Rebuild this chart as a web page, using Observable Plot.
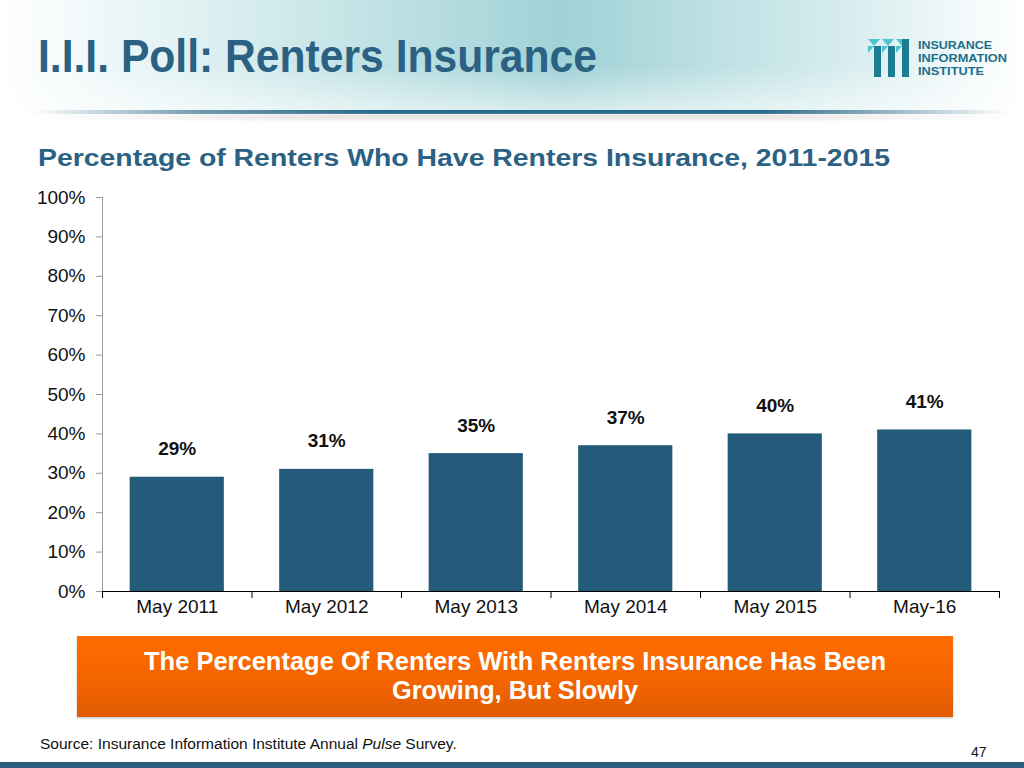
<!DOCTYPE html>
<html>
<head>
<meta charset="utf-8">
<script src="https://cdn.jsdelivr.net/npm/d3@7"></script>
<script src="https://cdn.jsdelivr.net/npm/@observablehq/plot@0.6"></script>
<style>
  html, body { margin: 0; padding: 0; }
  body { width: 1024px; height: 768px; position: relative; overflow: hidden; background: #fff; font-family: "Liberation Sans", Arial, sans-serif; }
  #header { position: absolute; left: 0; top: 0; width: 1024px; height: 110px;
    background: linear-gradient(90deg, rgba(255,255,255,1) 0%, rgba(200,230,232,0.6) 20%, rgba(150,205,210,0.9) 55%, rgba(190,225,228,0.7) 80%, rgba(255,255,255,1) 100%); }
  #headerfade { position: absolute; left: 0; top: 0; width: 1024px; height: 110px;
    background: linear-gradient(180deg, rgba(255,255,255,0) 0%, rgba(255,255,255,0) 60%, rgba(255,255,255,0.55) 100%); }
  #hline { position: absolute; left: 30px; top: 110px; width: 980px; height: 4px;
    background: linear-gradient(90deg, rgba(43,106,138,0) 0%, rgba(43,106,138,0.7) 18%, #276a8c 35%, #276a8c 75%, rgba(43,106,138,0.6) 85%, rgba(43,106,138,0) 100%); }
  #hshadow { position: absolute; left: 30px; top: 114px; width: 980px; height: 6px;
    background: linear-gradient(90deg, rgba(200,200,200,0) 0%, rgba(215,205,205,0.5) 30%, rgba(215,205,205,0.5) 75%, rgba(200,200,200,0) 100%); filter: blur(1px); }
  #title { position: absolute; left: 38px; top: 24px; overflow: visible; }
  #logo { position: absolute; left: 866px; top: 37px; }
  #subtitle { position: absolute; left: 38px; top: 141px; }
  #chart { position: absolute; left: 0; top: 185px; }
  #box { position: absolute; left: 77px; top: 636px; width: 876px; height: 81px;
    background: linear-gradient(180deg, #ff6c00 0%, #f46500 55%, #e05c05 100%);
    box-shadow: 0 1px 2px rgba(0,0,0,0.25); }
  #boxtext { position: absolute; left: 0; top: 0; }
  #source { position: absolute; left: 40px; top: 735px; font-size: 15.5px; color: #111; }
  #page { position: absolute; left: 971px; top: 744px; font-size: 14px; color: #111; }
  #bottombar { position: absolute; left: 0; top: 762px; width: 1024px; height: 6px; background: #2a5f7e; }
</style>
</head>
<body>
<div id="header"></div>
<div id="headerfade"></div>
<div id="hline"></div>
<div id="hshadow"></div>
<svg id="title" width="620" height="66">
  <text x="0" y="48" font-family="'Liberation Sans Narrow','Arial Narrow','Liberation Sans',sans-serif" font-weight="bold" font-size="47" fill="#2b6283" textLength="559" lengthAdjust="spacingAndGlyphs">I.I.I. Poll: Renters Insurance</text>
</svg>
<svg id="logo" width="150" height="44">
  <g>
    <polygon points="2,2 14,2 8,9" fill="#4fc3cf"/>
    <polygon points="2,9 8,9 2,16" fill="#4fc3cf"/>
    <rect x="8" y="9" width="7" height="31" fill="#1a7d92"/>
    <polygon points="16,2 28,2 22,9" fill="#4fc3cf"/>
    <polygon points="16,9 22,9 16,16" fill="#4fc3cf"/>
    <rect x="22" y="9" width="7" height="31" fill="#1a7d92"/>
    <polygon points="30,2 42,2 36,9" fill="#4fc3cf"/>
    <polygon points="30,9 36,9 30,16" fill="#4fc3cf"/>
    <rect x="36" y="2" width="7" height="38" fill="#1a7d92"/>
  </g>
  <g font-family="'Liberation Sans','Arial',sans-serif" font-weight="bold" font-size="11.5" fill="#1a6f8c">
    <text x="52" y="12" textLength="74" lengthAdjust="spacingAndGlyphs">INSURANCE</text>
    <text x="52" y="25" textLength="89" lengthAdjust="spacingAndGlyphs">INFORMATION</text>
    <text x="52" y="38" textLength="66" lengthAdjust="spacingAndGlyphs">INSTITUTE</text>
  </g>
</svg>
<svg id="subtitle" width="900" height="34">
  <text x="0" y="25" font-family="'Liberation Sans',Arial,sans-serif" font-weight="bold" font-size="23" fill="#2b6283" textLength="852" lengthAdjust="spacingAndGlyphs">Percentage of Renters Who Have Renters Insurance, 2011-2015</text>
</svg>
<div id="chart"></div>
<div id="box">
  <svg id="boxtext" width="876" height="81">
    <g font-family="'Liberation Sans Narrow','Arial Narrow','Liberation Sans',sans-serif" font-weight="bold" font-size="25" fill="#ffffff" text-anchor="middle">
      <text x="438" y="34" textLength="742" lengthAdjust="spacingAndGlyphs">The Percentage Of Renters With Renters Insurance Has Been</text>
      <text x="438" y="63" textLength="246" lengthAdjust="spacingAndGlyphs">Growing, But Slowly</text>
    </g>
  </svg>
</div>
<div id="source">Source: Insurance Information Institute Annual <i>Pulse</i> Survey.</div>
<div id="page">47</div>
<div id="bottombar"></div>
<script>
const categories = ["May 2011", "May 2012", "May 2013", "May 2014", "May 2015", "May-16"];
const values = [29, 31, 35, 37, 40, 41];
const yTicks = [0, 10, 20, 30, 40, 50, 60, 70, 80, 90, 100];

const data = categories.map((c, i) => ({ category: c, index: i, value: values[i] }));
const halfBar = 0.315;
const boundaries = d3.range(categories.length + 1);
const centers = categories.map((c, i) => i + 0.5);

const chart = Plot.plot({
  width: 1024,
  height: 440,
  marginLeft: 102,
  marginRight: 25,
  marginTop: 12,
  marginBottom: 34,
  style: { fontFamily: "'Liberation Sans', Arial, sans-serif", fontSize: "19px", color: "#111", background: "transparent", overflow: "visible" },
  x: { type: "linear", domain: [0, categories.length], axis: null },
  y: { domain: [0, 100], axis: null },
  marks: [
    Plot.ruleX([0], { y1: 0, y2: 100, stroke: "#9a9a9a" }),
    Plot.axisY({ ticks: yTicks, tickFormat: d => d + "%", tickSize: 6, tickPadding: 11, stroke: "#9a9a9a", fontSize: 19, fill: "#111", label: null }),
    Plot.rectY(data, { x1: d => d.index + 0.5 - halfBar, x2: d => d.index + 0.5 + halfBar, y: "value", fill: "#245b7a" }),
    Plot.ruleY([0], { stroke: "#000", strokeWidth: 1.2 }),
    Plot.axisX({ ticks: boundaries, tickFormat: () => "", tickSize: 7, stroke: "#000", label: null }),
    Plot.axisX({ ticks: centers, tickFormat: (d) => categories[Math.round(d - 0.5)], tickSize: 0, tickPadding: 8, fontSize: 19, fill: "#111", label: null }),
    Plot.text(data, { x: d => d.index + 0.5, y: "value", text: d => d.value + "%", dy: -28, fontWeight: "bold", fontSize: 19, fill: "#111" })
  ]
});
document.getElementById("chart").appendChild(chart);
</script>
</body>
</html>
